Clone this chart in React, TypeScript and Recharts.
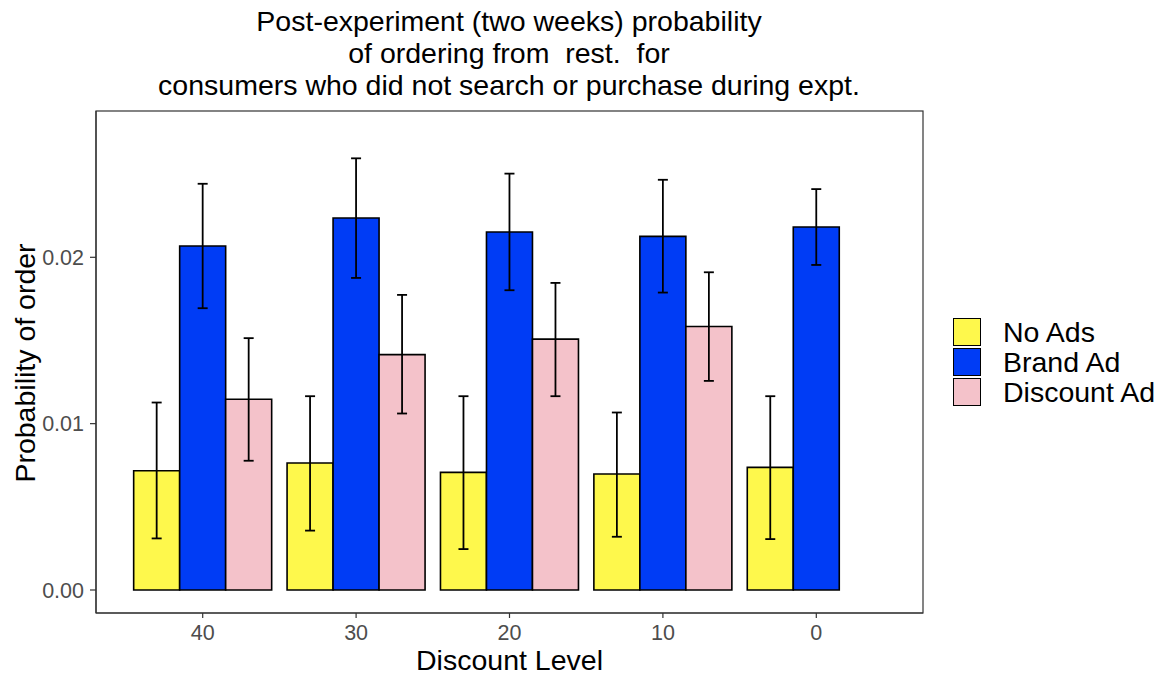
import React from 'react';
import { BarChart, Bar, XAxis, YAxis, ErrorBar } from 'recharts';

const FONT = '"Liberation Sans", Arial, Helvetica, sans-serif';

const categories = ['40', '30', '20', '10', '0'];

const noAds = [0.00717, 0.00763, 0.00707, 0.00697, 0.00737];
const noAdsLow = [0.0031, 0.00357, 0.00246, 0.0032, 0.00306];
const noAdsHigh = [0.01127, 0.01165, 0.01165, 0.01067, 0.01165];

const brandAd = [0.02068, 0.02236, 0.02152, 0.02126, 0.02182];
const brandLow = [0.01694, 0.01876, 0.01802, 0.01788, 0.01954];
const brandHigh = [0.02442, 0.02595, 0.02503, 0.02466, 0.0241];

const discountAd: (number | null)[] = [0.01147, 0.01415, 0.01508, 0.01584, null];
const discountLow: (number | null)[] = [0.00777, 0.01061, 0.01165, 0.01257, null];
const discountHigh: (number | null)[] = [0.01514, 0.01774, 0.01846, 0.0191, null];

const seriesNames = ['No Ads', 'Brand Ad', 'Discount Ad'];
const seriesColors = ['#FEF84C', '#003CF5', '#F4C2CA'];
const yTicks = [0, 0.01, 0.02];

const titleLines = [
  'Post-experiment (two weeks) probability',
  'of ordering from  rest.  for',
  'consumers who did not search or purchase during expt.',
];

const err = (v: number | null, lo: number | null, hi: number | null) =>
  v == null || lo == null || hi == null ? null : [v - lo, hi - v];

const data = categories.map((c, i) => ({
  level: c,
  noAds: noAds[i],
  noAdsErr: err(noAds[i], noAdsLow[i], noAdsHigh[i]),
  brand: brandAd[i],
  brandErr: err(brandAd[i], brandLow[i], brandHigh[i]),
  discount: discountAd[i],
  discountErr: err(discountAd[i], discountLow[i], discountHigh[i]),
}));

const seriesKeys = ['noAds', 'brand', 'discount'];

const DOMAIN: [number, number] = [-0.001383, 0.028795];
const BORDER = '#333333';

const PLOT = { left: 96, top: 111, width: 827, height: 502 };

export default function App() {
  return (
    <div style={{ position: 'absolute', left: 0, top: 0, width: 1164, height: 677, background: '#fff', fontFamily: FONT }}>
      <div
        style={{
          position: 'absolute',
          left: 109,
          width: 800,
          top: 5,
          textAlign: 'center',
          fontSize: 28.5,
          lineHeight: '32px',
          color: '#000',
          whiteSpace: 'pre',
        }}
      >
        {titleLines.map((l) => (
          <div key={l}>{l}</div>
        ))}
      </div>
      <BarChart
        width={1164}
        height={677}
        data={data}
        margin={{ top: PLOT.top, right: 1164 - PLOT.left - PLOT.width, bottom: 24, left: 0 }}
        barCategoryGap="5%"
        barGap={0}
        style={{ position: 'absolute', left: 0, top: 0 }}
      >
        <XAxis
          dataKey="level"
          height={40}
          padding={{ left: 30, right: 30 }}
          tickSize={5}
          tickMargin={7}
          axisLine={{ stroke: BORDER, strokeWidth: 1.2 }}
          tickLine={{ stroke: BORDER, strokeWidth: 1.2 }}
          tick={{ fill: '#4D4D4D', fontSize: 21.5, fontFamily: FONT }}
        />
        <YAxis
          width={PLOT.left}
          domain={DOMAIN}
          allowDataOverflow
          ticks={yTicks}
          tickFormatter={(v: number) => v.toFixed(2)}
          tickSize={6}
          tickMargin={6}
          axisLine={{ stroke: BORDER, strokeWidth: 1.2 }}
          tickLine={{ stroke: BORDER, strokeWidth: 1.2 }}
          tick={{ fill: '#4D4D4D', fontSize: 21.5, fontFamily: FONT }}
        />
        {seriesKeys.map((k, i) => (
          <Bar
            key={k}
            dataKey={k}
            name={seriesNames[i]}
            fill={seriesColors[i]}
            stroke="#000"
            strokeWidth={1.6}
            isAnimationActive={false}
          >
            <ErrorBar dataKey={k + 'Err'} width={5} stroke="#000" strokeWidth={1.8} direction="y" />
          </Bar>
        ))}
      </BarChart>
      <svg
        width={1164}
        height={677}
        style={{ position: 'absolute', left: 0, top: 0, pointerEvents: 'none' }}
      >
        <rect
          x={PLOT.left}
          y={PLOT.top}
          width={PLOT.width}
          height={PLOT.height}
          fill="none"
          stroke={BORDER}
          strokeWidth={1.2}
        />
      </svg>
      <div
        style={{
          position: 'absolute',
          left: PLOT.left,
          width: PLOT.width,
          top: 646,
          textAlign: 'center',
          fontSize: 28.5,
          lineHeight: '28px',
          color: '#000',
        }}
      >
        Discount Level
      </div>
      <div
        style={{
          position: 'absolute',
          left: 25,
          top: 363,
          transform: 'translate(-50%, -50%) rotate(-90deg)',
          fontSize: 28.5,
          lineHeight: '28px',
          whiteSpace: 'nowrap',
          color: '#000',
        }}
      >
        Probability of order
      </div>
      <div style={{ position: 'absolute', left: 953, top: 317, color: '#000' }}>
        {seriesNames.map((n, i) => (
          <div key={n} style={{ display: 'flex', alignItems: 'center', height: 30 }}>
            <div
              style={{
                width: 28,
                height: 28,
                background: seriesColors[i],
                border: '1.5px solid #000',
                boxSizing: 'border-box',
              }}
            />
            <span style={{ marginLeft: 22, fontSize: 28.5, lineHeight: '30px' }}>{n}</span>
          </div>
        ))}
      </div>
    </div>
  );
}
